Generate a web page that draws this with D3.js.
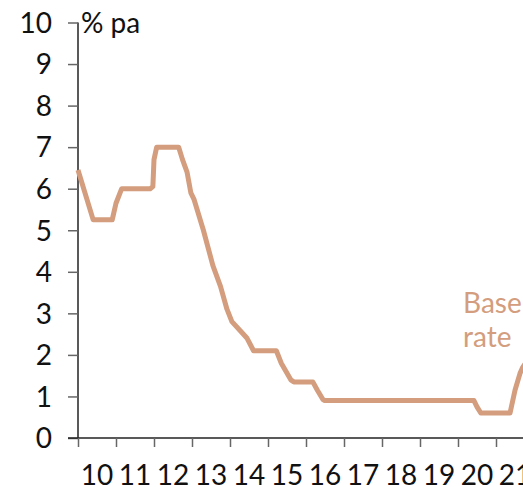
<!DOCTYPE html>
<html><head><meta charset="utf-8">
<script src="https://cdn.jsdelivr.net/npm/d3@7"></script>
<style>
html,body{margin:0;padding:0;background:#fff;overflow:hidden}
svg{display:block}
text{font-family:"Lato","Open Sans",sans-serif}
</style></head>
<body><svg id="c" width="523" height="487"></svg>
<script>
const years = [2010.0,2010.4,2010.9,2011.0,2011.15,2011.9,2011.97,2012.0,2012.07,2012.65,2012.75,2012.87,2012.97,2013.05,2013.3,2013.55,2013.75,2013.92,2014.05,2014.3,2014.45,2014.62,2015.22,2015.35,2015.6,2015.68,2016.18,2016.3,2016.45,2016.5,2020.42,2020.5,2020.6,2021.37,2021.5,2021.63,2021.7,2021.78];
const baseRate = [6.45,5.25,5.25,5.65,6.0,6.0,6.05,6.7,7.0,7.0,6.7,6.4,5.9,5.75,5.0,4.15,3.65,3.1,2.8,2.55,2.4,2.1,2.1,1.8,1.4,1.35,1.35,1.15,0.92,0.9,0.9,0.75,0.6,0.6,1.15,1.55,1.7,1.8];
const yTicks = [0,1,2,3,4,5,6,7,8,9,10];
const yearTicks = [2010,2011,2012,2013,2014,2015,2016,2017,2018,2019,2020,2021,2022];
const yearLabels = ["10","11","12","13","14","15","16","17","18","19","20","21"];
const unitLabel = "% pa";
const seriesLabel = ["Base","rate"];

const svg = d3.select("#c");
const x = d3.scaleLinear().domain([2010, 2022]).range([78, 534]);
const y = d3.scaleLinear().domain([0, 10]).range([438, 22.5]);
const fs = 28;

// y axis
const ya = svg.append("g").attr("transform","translate(78,0)")
  .call(d3.axisLeft(y).tickValues(yTicks).tickSize(10).tickPadding(16).tickFormat(d3.format("d")));
ya.select(".domain").attr("stroke","#222").attr("stroke-width",1.5).attr("d","M0,"+y(10)+"V"+y(0));
ya.selectAll(".tick line").attr("stroke","#666").attr("stroke-width",1.5);
ya.selectAll(".tick text").attr("font-size",fs).attr("fill","#111").attr("font-family","Lato").attr("dy","0.35em");

// x axis
const xa = svg.append("g").attr("transform","translate(0,438)")
  .call(d3.axisBottom(x).tickValues(yearTicks).tickSize(9).tickFormat(""));
xa.select(".domain").attr("stroke","#222").attr("stroke-width",1.5).attr("d","M"+(x(2010)-10)+",0H"+x(2022));
xa.selectAll(".tick line").attr("stroke","#666").attr("stroke-width",1.5);
svg.append("g").selectAll("text").data(yearLabels).join("text")
  .attr("x",(d,i)=>x(yearTicks[i]+0.5)).attr("y",485)
  .attr("text-anchor","middle").attr("font-size",fs).attr("fill","#111").text(d=>d);

svg.append("text").attr("x",81).attr("y",33).attr("font-size",fs).attr("fill","#111").text(unitLabel);

// line
const line = d3.line().x((d,i)=>x(years[i])).y(d=>y(d)).curve(d3.curveLinear);
svg.append("path").datum(baseRate).attr("d",line).attr("fill","none")
  .attr("stroke","#D39D7E").attr("stroke-width",5).attr("stroke-linejoin","round").attr("stroke-linecap","butt");

svg.append("g").selectAll("text").data(seriesLabel).join("text")
  .attr("x",463).attr("y",(d,i)=>313+i*34).attr("font-size",fs).attr("fill","#D39D7E").text(d=>d);
</script></body></html>
